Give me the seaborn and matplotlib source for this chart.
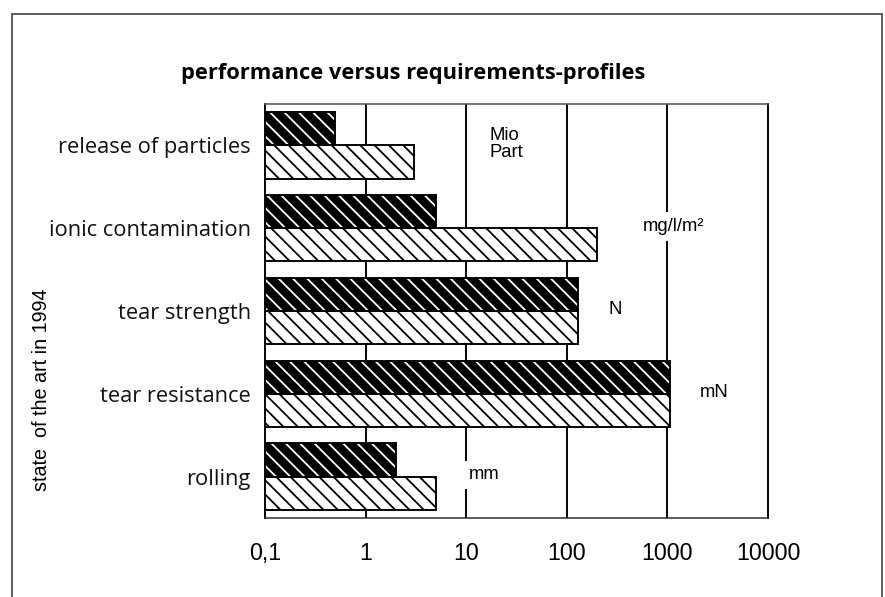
import numpy as np
import pandas as pd
import matplotlib
matplotlib.use("Agg")
import matplotlib.pyplot as plt
from matplotlib.patches import Rectangle
from matplotlib.lines import Line2D
import seaborn as sns

# ---- data ----
categories = ["release of particles", "ionic contamination", "tear strength",
              "tear resistance", "rolling"]
series_names = ["state of the art 1994", "requirements"]
state_1994 = [0.5, 5, 130, 1050, 2]
requirements = [3, 200, 130, 1050, 5]
units = ["Mio\nPart", "mg/l/m²", "N", "mN", "mm"]
unit_x = [17, 1150, 300, 2900, 15]
unit_ha = ["left", "center", "center", "center", "center"]
x_ticks = [0.1, 1, 10, 100, 1000, 10000]
x_tick_labels = ["0,1", "1", "10", "100", "1000", "10000"]

df = pd.DataFrame({
    "category": categories * 2,
    "value": state_1994 + requirements,
    "series": [series_names[0]] * len(categories) + [series_names[1]] * len(categories),
})

sns.set_theme(style="white")
plt.rcParams["hatch.linewidth"] = 1.5

DPI = 86
fig = plt.figure(figsize=(885 / DPI, 597 / DPI), dpi=DPI)
ax = fig.add_axes([265 / 885, (597 - 518) / 597, 503 / 885, 414 / 597])

sns.barplot(data=df, y="category", x="value", hue="series", order=categories,
            hue_order=series_names, orient="h", width=0.8, ax=ax,
            legend=False, errorbar=None, log_scale=True, saturation=1)

bar_lw = 1.6
for i, cont in enumerate(ax.containers):
    for rect in cont:
        if i == 0:
            rect.set_facecolor("black")
            rect.set_edgecolor("white")
        else:
            rect.set_facecolor("white")
            rect.set_edgecolor("black")
        rect.set_hatch("\\\\")
        rect.set_linewidth(0)
        rect.set_zorder(2)
        ax.add_patch(Rectangle(rect.get_xy(), rect.get_width(), rect.get_height(),
                               fill=False, edgecolor="black", linewidth=bar_lw,
                               zorder=3))

ax.set_xscale("log")
ax.set_xlim(0.1, 10000)
ax.set_ylim(len(categories) - 0.5, -0.5)
ax.set_xticks(x_ticks)
ax.set_xticklabels(x_tick_labels)
ax.minorticks_off()
ax.tick_params(axis="x", length=0, pad=20, labelsize=19.5)
ax.tick_params(axis="y", length=0, pad=12, labelsize=18.3)
for lab in ax.get_xticklabels():
    lab.set_fontfamily(["Liberation Sans", "DejaVu Sans"])
    lab.set_color("black")
for lab in ax.get_yticklabels():
    lab.set_fontfamily(["Open Sans", "DejaVu Sans"])
    lab.set_color("#111111")

ax.set_axisbelow(True)
ax.grid(False)
for xv in x_ticks[1:-1]:
    ax.axvline(xv, color="black", linewidth=1.6, zorder=1)

for side in ["left", "right", "bottom", "top"]:
    ax.spines[side].set_visible(True)
    ax.spines[side].set_color("black")
    ax.spines[side].set_linewidth(1.6)
ax.spines["top"].set_color("#555555")
ax.spines["top"].set_linewidth(1.3)
ax.spines["bottom"].set_color("#333333")
ax.spines["bottom"].set_linewidth(1.3)

ax.set_xlabel("")
ax.set_ylabel("")

for i, (u, ux, ha) in enumerate(zip(units, unit_x, unit_ha)):
    ax.text(ux, i - 0.02, u, ha=ha, va="center", fontsize=15.5,
            family=["Liberation Sans", "DejaVu Sans"], color="black", zorder=4,
            linespacing=1.0,
            bbox=dict(facecolor="white", edgecolor="none", pad=5))

fig.text(413 / 885, 1 - 73 / 597, "performance versus requirements-profiles",
         ha="center", va="center", fontsize=18.3, fontweight="bold",
         family=["Open Sans", "DejaVu Sans"], color="black")

fig.text(42 / 885, 1 - 390 / 597, "state  of the art in 1994", rotation=90,
         ha="center", va="center", fontsize=16.5,
         family=["Liberation Sans", "DejaVu Sans"], color="black")

# outer frame (top, left, right)
frame_kw = dict(color="#444444", linewidth=1.4, transform=fig.transFigure)
fig.add_artist(Line2D([12 / 885, 882 / 885], [1 - 14 / 597, 1 - 14 / 597], **frame_kw))
fig.add_artist(Line2D([12 / 885, 12 / 885], [1 - 14 / 597, 0], **frame_kw))
fig.add_artist(Line2D([882 / 885, 882 / 885], [1 - 14 / 597, 0], **frame_kw))

fig.savefig("out.png", dpi=DPI, facecolor="white")
